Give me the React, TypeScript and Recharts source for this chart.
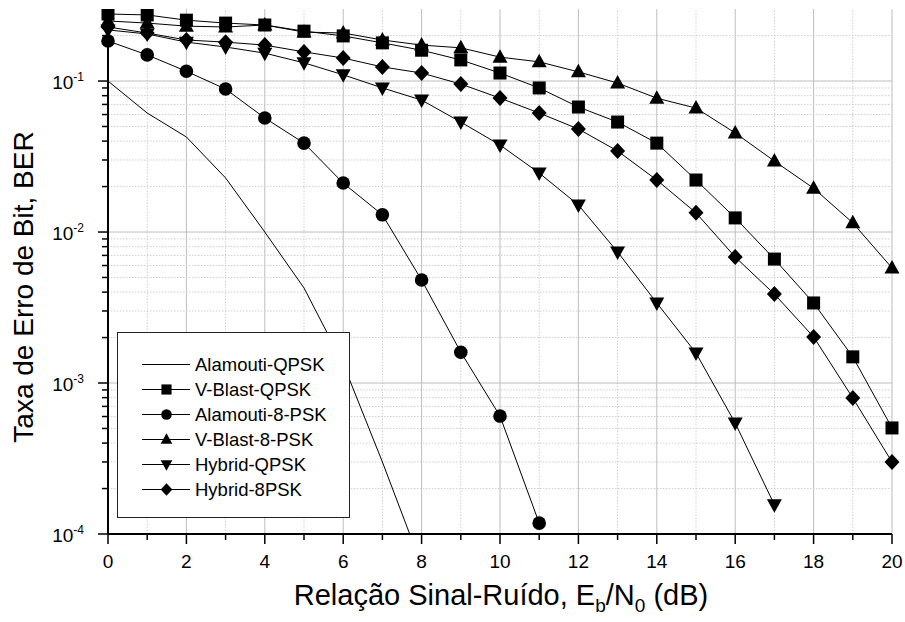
import { Label, Legend, Line, LineChart, ReferenceLine, XAxis, YAxis } from "recharts";

const FONT = "'Liberation Sans', Arial, Helvetica, sans-serif";

// Eb/N0 in dB
const SNR_DB = [0, 1, 2, 3, 4, 5, 6, 7, 8, 9, 10, 11, 12, 13, 14, 15, 16, 17, 18, 19, 20];
const X_LABELED = [0, 2, 4, 6, 8, 10, 12, 14, 16, 18, 20];

// BER, one value per dB starting at 0
const ALAMOUTI_QPSK = [0.1, 0.0614, 0.0426, 0.0228, 0.01, 0.00426, 0.00134, 0.0003, 0.000062];
const VBLAST_QPSK = [
  0.278, 0.274, 0.253, 0.242, 0.235, 0.214, 0.199, 0.179, 0.16, 0.138, 0.113, 0.09, 0.0673, 0.0535,
  0.0388, 0.0221, 0.0124, 0.00662, 0.00339, 0.00149, 0.000504,
];
const ALAMOUTI_8PSK = [
  0.184, 0.149, 0.116, 0.0885, 0.0569, 0.0388, 0.0211, 0.013, 0.00481, 0.0016, 0.000604, 0.000118,
];
const VBLAST_8PSK = [
  0.25, 0.242, 0.231, 0.228, 0.235, 0.211, 0.208, 0.187, 0.173, 0.166, 0.144, 0.134, 0.115, 0.097,
  0.077, 0.0662, 0.0453, 0.0295, 0.0195, 0.0115, 0.00578,
];
const HYBRID_QPSK = [
  0.218, 0.205, 0.181, 0.168, 0.153, 0.132, 0.11, 0.09, 0.0748, 0.0535, 0.0377, 0.0246, 0.0151,
  0.00738, 0.00339, 0.00158, 0.000543, 0.000156,
];
const HYBRID_8PSK = [
  0.228, 0.208, 0.187, 0.181, 0.173, 0.156, 0.142, 0.124, 0.113, 0.0955, 0.0771, 0.0614, 0.0481,
  0.0344, 0.0221, 0.0134, 0.00683, 0.00388, 0.00202, 0.000796, 0.0003,
];

const Y_MIN = 1e-4;
const Y_MAX = 0.3;
const Y_DECADES = [1e-4, 1e-3, 1e-2, 1e-1];

type Shape = "none" | "square" | "circle" | "up" | "down" | "diamond";

const SERIES: { key: string; name: string; values: number[]; shape: Shape }[] = [
  { key: "aq", name: "Alamouti-QPSK", values: ALAMOUTI_QPSK, shape: "none" },
  { key: "vq", name: "V-Blast-QPSK", values: VBLAST_QPSK, shape: "square" },
  { key: "a8", name: "Alamouti-8-PSK", values: ALAMOUTI_8PSK, shape: "circle" },
  { key: "v8", name: "V-Blast-8-PSK", values: VBLAST_8PSK, shape: "up" },
  { key: "hq", name: "Hybrid-QPSK", values: HYBRID_QPSK, shape: "down" },
  { key: "h8", name: "Hybrid-8PSK", values: HYBRID_8PSK, shape: "diamond" },
];

const rows = SNR_DB.map((snr, i) => {
  const row: Record<string, number | undefined> = { snr };
  SERIES.forEach((s) => {
    row[s.key] = s.values[i];
  });
  return row;
});

const minorY: number[] = [];
Y_DECADES.forEach((d) => {
  for (let m = 2; m <= 9; m++) {
    if (d * m < Y_MAX - 1e-9) minorY.push(d * m);
  }
});
const yTicks = [...Y_DECADES, ...minorY].sort((a, b) => a - b);
const isDecade = (v: number) => Math.abs(Math.log10(v) - Math.round(Math.log10(v))) < 1e-6;

function Marker({ shape, cx, cy, s = 1 }: { shape: Shape; cx?: number; cy?: number; s?: number }) {
  if (cx == null || cy == null || Number.isNaN(cx) || Number.isNaN(cy)) return null;
  switch (shape) {
    case "square":
      return <rect x={cx - 6.5 * s} y={cy - 6.5 * s} width={13 * s} height={13 * s} fill="#000" />;
    case "circle":
      return <circle cx={cx} cy={cy} r={6.8 * s} fill="#000" />;
    case "up":
      return (
        <polygon
          points={`${cx},${cy - 8 * s} ${cx + 7.5 * s},${cy + 5.5 * s} ${cx - 7.5 * s},${cy + 5.5 * s}`}
          fill="#000"
        />
      );
    case "down":
      return (
        <polygon
          points={`${cx},${cy + 8 * s} ${cx + 7.5 * s},${cy - 5.5 * s} ${cx - 7.5 * s},${cy - 5.5 * s}`}
          fill="#000"
        />
      );
    case "diamond":
      return (
        <polygon
          points={`${cx},${cy - 8 * s} ${cx + 7.5 * s},${cy} ${cx},${cy + 8 * s} ${cx - 7.5 * s},${cy}`}
          fill="#000"
        />
      );
    default:
      return null;
  }
}

function XTick({ x, y, payload }: any) {
  const v = payload.value as number;
  const major = X_LABELED.includes(v);
  return (
    <g>
      <line x1={x} x2={x} y1={y} y2={y + (major ? 10 : 6)} stroke="#000" strokeWidth={1.5} />
      {major && (
        <text x={x} y={y + 34} textAnchor="middle" fontSize={19} fontFamily={FONT} fill="#000">
          {v}
        </text>
      )}
    </g>
  );
}

function YTick({ x, y, payload }: any) {
  const v = payload.value as number;
  const major = isDecade(v);
  return (
    <g>
      <line x1={x} x2={x - (major ? 10 : 6)} y1={y} y2={y} stroke="#000" strokeWidth={1.5} />
      {major && (
        <text x={x - 24} y={y + 8} textAnchor="end" fontSize={19} fontFamily={FONT} fill="#000">
          10
          <tspan fontSize={12} dy={-8}>
            {String(Math.round(Math.log10(v)))}
          </tspan>
        </text>
      )}
    </g>
  );
}

function XTitle({ viewBox }: any) {
  const cx = viewBox.x + viewBox.width / 2 + 1;
  const by = viewBox.y + 71;
  return (
    <text x={cx} y={by} textAnchor="middle" fontSize={29} fontFamily={FONT} fill="#000">
      Relação Sinal-Ruído, E
      <tspan fontSize={19} dy={7}>b</tspan>
      <tspan dy={-7}>/N</tspan>
      <tspan fontSize={19} dy={7}>0</tspan>
      <tspan dy={-7}> (dB)</tspan>
    </text>
  );
}

function YTitle({ viewBox }: any) {
  const cx = viewBox.x + 25;
  const cy = 287;
  return (
    <text
      x={cx}
      y={cy}
      transform={`rotate(-90 ${cx} ${cy})`}
      textAnchor="middle"
      fontSize={28}
      fontFamily={FONT}
      fill="#000"
    >
      Taxa de Erro de Bit, BER
    </text>
  );
}

function LegendBox() {
  return (
    <div
      style={{
        width: 233,
        height: 186,
        boxSizing: "border-box",
        border: "1.5px solid #222",
        background: "#fff",
        paddingTop: 19,
        fontFamily: FONT,
      }}
    >
      {SERIES.map((s) => (
        <div key={s.key} style={{ display: "flex", alignItems: "center", height: 25 }}>
          <svg width={77} height={25} style={{ flex: "none" }}>
            <line x1={24} x2={72} y1={12.5} y2={12.5} stroke="#000" strokeWidth={1} />
            <Marker shape={s.shape} cx={48.5} cy={12.5} s={0.78} />
          </svg>
          <span style={{ fontSize: 18.5, color: "#000", whiteSpace: "nowrap" }}>{s.name}</span>
        </div>
      ))}
    </div>
  );
}

export default function App() {
  return (
    <>
      <style>{"body{margin:0}"}</style>
      <LineChart
        width={905}
        height={622}
        data={rows}
        margin={{ top: 9, right: 13, bottom: 0, left: 8 }}
      >
        {SNR_DB.map((v) => (
          <ReferenceLine
            key={`gx${v}`}
            x={v}
            stroke={X_LABELED.includes(v) ? "#bdbdbd" : "#cfcfcf"}
            strokeWidth={1}
            strokeDasharray={X_LABELED.includes(v) ? undefined : "1.5 1.5"}
          />
        ))}
        {yTicks.map((v) => (
          <ReferenceLine
            key={`gy${v}`}
            y={v}
            stroke={isDecade(v) ? "#bdbdbd" : "#cfcfcf"}
            strokeWidth={1}
            strokeDasharray={isDecade(v) ? undefined : "1.5 1.5"}
          />
        ))}
        <XAxis
          dataKey="snr"
          type="number"
          domain={[0, 20]}
          ticks={SNR_DB}
          interval={0}
          height={88}
          tickSize={0}
          tickMargin={0}
          tickLine={false}
          axisLine={{ stroke: "#000", strokeWidth: 2 }}
          tick={<XTick />}
        >
          <Label content={<XTitle />} />
        </XAxis>
        <YAxis
          scale="log"
          domain={[Y_MIN, Y_MAX]}
          allowDataOverflow
          ticks={yTicks}
          interval={0}
          width={100}
          tickSize={0}
          tickMargin={0}
          tickLine={false}
          axisLine={{ stroke: "#000", strokeWidth: 2 }}
          tick={<YTick />}
        >
          <Label content={<YTitle />} />
        </YAxis>
        {SERIES.map((s) => (
          <Line
            key={s.key}
            dataKey={s.key}
            name={s.name}
            type="linear"
            stroke="#000"
            strokeWidth={1}
            isAnimationActive={false}
            activeDot={false}
            dot={
              s.shape === "none"
                ? false
                : (p: any) => <Marker key={`${s.key}-${p.index}`} shape={s.shape} cx={p.cx} cy={p.cy} />
            }
          />
        ))}
        <Legend
          layout="vertical"
          align="center"
          verticalAlign="middle"
          content={() => <LegendBox />}
          wrapperStyle={{ left: 117, top: 332, width: 233, height: 186 }}
        />
      </LineChart>
    </>
  );
}
